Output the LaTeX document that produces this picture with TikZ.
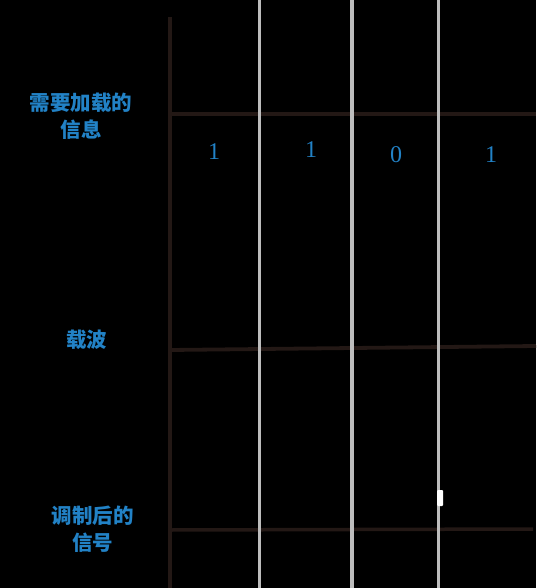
\documentclass[tikz,border=0pt]{standalone}
\usepackage{fontspec}
\usepackage{xcolor}
\setmainfont{Liberation Serif}
\newfontfamily\cjk{Noto Sans CJK SC}
\definecolor{ink}{HTML}{231815}
\definecolor{txt}{HTML}{2282C6}
\definecolor{grid}{HTML}{BDBDBD}

\begin{document}
\begin{tikzpicture}[x=1pt,y=-1pt,
    lab/.style={text=txt,font=\cjk\bfseries\fontsize{20.5}{27}\selectfont,align=center,inner sep=0pt},
    bit/.style={text=txt,font=\fontsize{24}{24}\selectfont,inner sep=0pt}]
    \useasboundingbox[fill=black] (0,0) rectangle (536,588);
    \clip (0,0) rectangle (536,588);

    % axis and the three rows
    \draw[ink,line width=4.5pt] (170,17) -- (170,588);
    \draw[ink,line width=3.5pt] (170,114) -- (536,114);
    \draw[ink,line width=3.8pt] (170,350) -- (536,346);
    \draw[ink,line width=3.5pt] (170,530) -- (533,529);

    % bit borders
    \foreach \x in {259.5,352,438.5}
        \draw[grid,line width=3.5pt] (\x,0) -- (\x,588);
    \fill[white,rounded corners=1pt] (437,490) rectangle (443,506);

    \node[lab] (msg) at (81,116.5) {需要加载的\\信息};
    \node[lab] (car) at (86.5,340) {载波};
    \node[lab] (mod) at (92.5,529.5) {调制后的\\信号};

    \node[bit] (0) at (214,152) {1};
    \node[bit] (1) at (311,150) {1};
    \node[bit] (2) at (396,155) {0};
    \node[bit] (3) at (491,155) {1};
    % \draw (0) -- (3);
\end{tikzpicture}
\end{document}
